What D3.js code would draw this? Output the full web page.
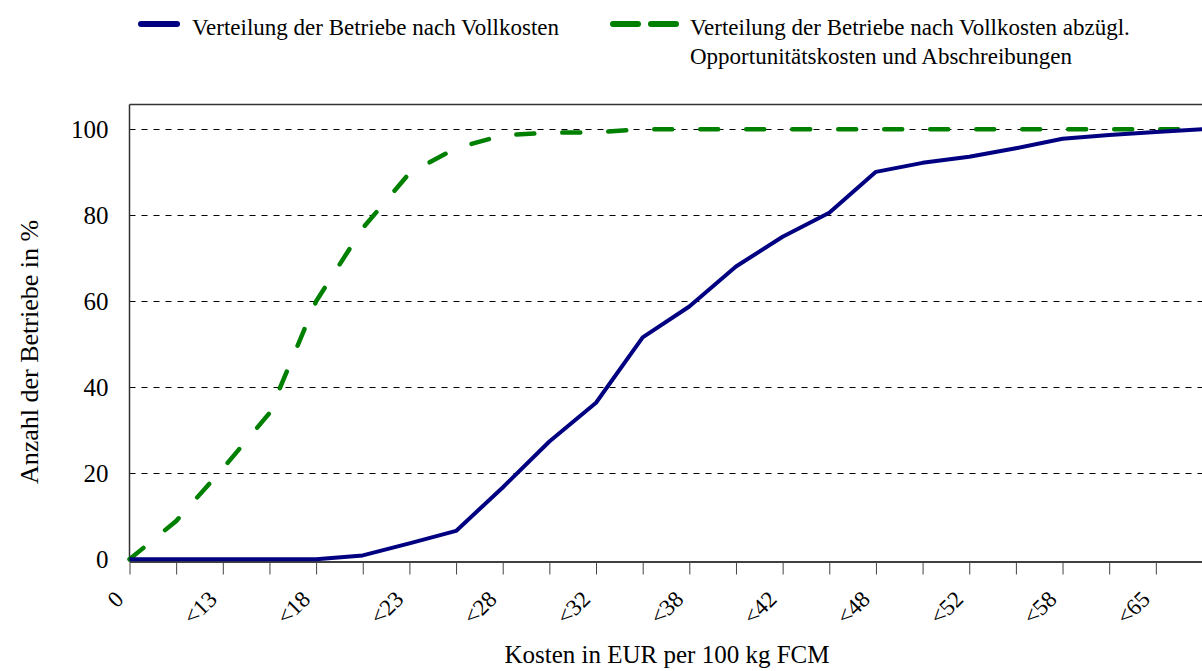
<!DOCTYPE html>
<html>
<head>
<meta charset="utf-8">
<script src="https://cdnjs.cloudflare.com/ajax/libs/d3/7.8.5/d3.min.js"></script>
<style>
body{margin:0;background:#fff;}
svg{display:block;font-family:"Liberation Serif","Times New Roman",serif;}
</style>
</head>
<body>
<div id="plot"></div>
<script>
// cost classes (EUR per 100 kg FCM), only every second one gets a label
var categories = ['0','<10','<13','<15','<18','<20','<23','<25','<28','<30','<32','<35',
                  '<38','<40','<42','<45','<48','<50','<52','<55','<58','<60','<65','<70'];
var labelled = ['0','<13','<18','<23','<28','<32','<38','<42','<48','<52','<58','<65'];

// cumulative share of farms in %
var vollkosten = [0,0,0,0,0,0.9,3.7,6.6,16.7,27.4,36.4,51.6,
                  58.8,68.1,75.0,80.6,90.1,92.2,93.6,95.6,97.8,98.7,99.4,100];
var abzueglich = [0,8.9,21.1,34.0,60.0,77.0,89.8,95.6,98.6,99.2,99.3,100,
                  100,100,100,100,100,100,100,100,100,100,100,100];

var yTicks = [0,20,40,60,80,100];

var W = 1202, H = 671;
var plotLeft = 129.5, plotRight = 1202.5, plotTop = 104.5, axisY = 561.5;
var serif = '"Liberation Serif","Times New Roman",serif';

var svg = d3.select('#plot').append('svg')
	.attr('width', W)
	.attr('height', H);

var x = d3.scalePoint().domain(categories).range([plotLeft, plotRight]);
var y = d3.scaleLinear().domain([0,100]).range([559.3, 129.3]);

// gridlines
svg.append('g')
	.selectAll('line')
	.data(yTicks.filter(function(d){ return d > 0; }))
	.enter().append('line')
	.attr('x1', plotLeft).attr('x2', W)
	.attr('y1', function(d){ return Math.round(y(d)) + 0.5; })
	.attr('y2', function(d){ return Math.round(y(d)) + 0.5; })
	.attr('stroke', '#000')
	.attr('stroke-width', 1)
	.attr('stroke-dasharray', '6,6');

// plot frame (top and left)
svg.append('line')
	.attr('x1', plotLeft).attr('x2', W).attr('y1', plotTop).attr('y2', plotTop)
	.attr('stroke', '#333').attr('stroke-width', 1.5);
svg.append('line')
	.attr('x1', plotLeft).attr('x2', plotLeft).attr('y1', plotTop).attr('y2', axisY)
	.attr('stroke', '#333').attr('stroke-width', 1.5);

// y axis labels
var yAxis = d3.axisLeft(y).tickValues(yTicks).tickSize(0).tickPadding(21);
var gy = svg.append('g').attr('transform', 'translate(' + plotLeft + ',0)').call(yAxis);
gy.select('.domain').remove();
gy.selectAll('text')
	.attr('font-size', 25)
	.attr('fill', '#000')
	.attr('font-family', serif);

// x axis
var xAxis = d3.axisBottom(x)
	.tickSizeInner(13)
	.tickSizeOuter(0)
	.tickFormat(function(d){ return labelled.indexOf(d) >= 0 ? d : ''; });
var gx = svg.append('g').attr('transform', 'translate(0,' + axisY + ')').call(xAxis);
gx.select('.domain').attr('stroke', '#000').attr('stroke-width', 1.5);
gx.selectAll('.tick line').attr('stroke', '#444');
gx.selectAll('text')
	.attr('font-size', 23)
	.attr('fill', '#000')
	.attr('font-family', serif)
	.attr('text-anchor', 'end')
	.attr('dy', null)
	.attr('y', 0)
	.attr('transform', 'translate(-5,39) rotate(-45)');

// lines
var line = d3.line()
	.x(function(d, i){ return x(categories[i]); })
	.y(function(d){ return y(d); });

svg.append('path')
	.datum(abzueglich)
	.attr('d', line)
	.attr('fill', 'none')
	.attr('stroke', '#008000')
	.attr('stroke-width', 4.5)
	.attr('stroke-linecap', 'round')
	.attr('stroke-dasharray', '18,28');

svg.append('path')
	.datum(vollkosten)
	.attr('d', line)
	.attr('fill', 'none')
	.attr('stroke', '#000080')
	.attr('stroke-width', 4)
	.attr('stroke-linejoin', 'round');

// axis titles
svg.append('text')
	.attr('x', 667).attr('y', 663)
	.attr('text-anchor', 'middle')
	.attr('font-size', 25)
	.text('Kosten in EUR per 100 kg FCM');

svg.append('text')
	.attr('transform', 'translate(38,352) rotate(-90)')
	.attr('text-anchor', 'middle')
	.attr('font-size', 26)
	.text('Anzahl der Betriebe in %');

// legend
var legend = svg.append('g');
legend.append('line')
	.attr('x1', 141).attr('x2', 177).attr('y1', 24).attr('y2', 24)
	.attr('stroke', '#000080').attr('stroke-width', 6).attr('stroke-linecap', 'round');
legend.append('text')
	.attr('x', 192).attr('y', 35)
	.attr('font-size', 23)
	.text('Verteilung der Betriebe nach Vollkosten');

[[613,638],[651,676]].forEach(function(s){
	legend.append('line')
		.attr('x1', s[0]).attr('x2', s[1]).attr('y1', 24).attr('y2', 24)
		.attr('stroke', '#008000').attr('stroke-width', 6).attr('stroke-linecap', 'round');
});
legend.append('text')
	.attr('x', 690).attr('y', 35)
	.attr('font-size', 23)
	.text('Verteilung der Betriebe nach Vollkosten abzügl.');
legend.append('text')
	.attr('x', 690).attr('y', 64)
	.attr('font-size', 23)
	.text('Opportunitätskosten und Abschreibungen');
</script>
</body>
</html>
